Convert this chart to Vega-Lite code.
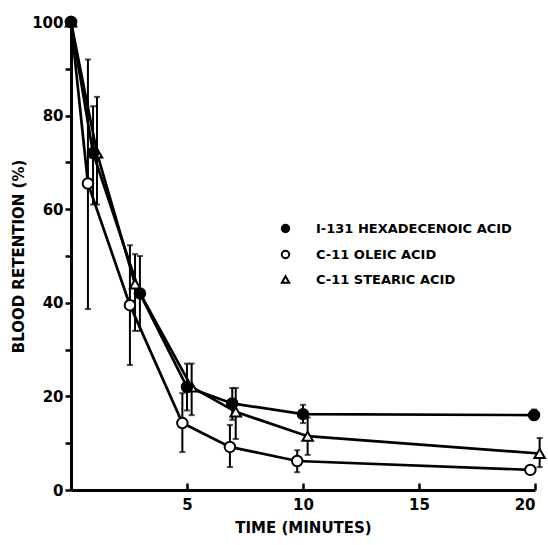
{
  "$schema": "https://vega.github.io/schema/vega-lite/v6.json",
  "width": 464,
  "height": 468,
  "autosize": "none",
  "padding": {"left": 71, "top": 22, "right": 13, "bottom": 55},
  "background": "white",
  "config": {
    "view": {"stroke": null},
    "font": "DejaVu Sans",
    "axis": {"domainColor": "black", "domainWidth": 3, "tickColor": "black", "tickWidth": 2.5, "labelColor": "black", "labelFont": "DejaVu Sans", "labelFontWeight": "bold", "labelFontSize": 15, "titleFont": "DejaVu Sans", "titleFontWeight": "bold", "titleFontSize": 15, "titleColor": "black", "grid": false},
    "legend": {"symbolStrokeColor": "black", "symbolStrokeWidth": 2, "labelLimit": 0}
  },
  "datasets": {
    "pts": [
      {"series": "C-11 OLEIC ACID", "t": 0, "r": 100, "lo": null, "hi": null},
      {"series": "C-11 OLEIC ACID", "t": 0.73, "r": 65.5, "lo": 38.7, "hi": 92},
      {"series": "C-11 OLEIC ACID", "t": 2.54, "r": 39.5, "lo": 26.7, "hi": 52.3},
      {"series": "C-11 OLEIC ACID", "t": 4.8, "r": 14.3, "lo": 8.1, "hi": 20.7},
      {"series": "C-11 OLEIC ACID", "t": 6.85, "r": 9.2, "lo": 4.9, "hi": 13.9},
      {"series": "C-11 OLEIC ACID", "t": 9.75, "r": 6.2, "lo": 3.8, "hi": 8.5},
      {"series": "C-11 OLEIC ACID", "t": 19.8, "r": 4.3, "lo": null, "hi": null},
      {"series": "C-11 STEARIC ACID", "t": 0, "r": 100, "lo": null, "hi": null},
      {"series": "C-11 STEARIC ACID", "t": 1.12, "r": 72, "lo": 61, "hi": 84},
      {"series": "C-11 STEARIC ACID", "t": 2.76, "r": 44, "lo": 34, "hi": 50.4},
      {"series": "C-11 STEARIC ACID", "t": 5.2, "r": 22, "lo": 16, "hi": 27},
      {"series": "C-11 STEARIC ACID", "t": 7.1, "r": 16.7, "lo": 10.9, "hi": 21.8},
      {"series": "C-11 STEARIC ACID", "t": 10.2, "r": 11.5, "lo": 7.5, "hi": 15.5},
      {"series": "C-11 STEARIC ACID", "t": 20.2, "r": 7.8, "lo": 4.9, "hi": 11.1},
      {"series": "I-131 HEXADECENOIC ACID", "t": 0, "r": 100, "lo": null, "hi": null},
      {"series": "I-131 HEXADECENOIC ACID", "t": 0.95, "r": 72, "lo": 61, "hi": 82},
      {"series": "I-131 HEXADECENOIC ACID", "t": 2.97, "r": 42, "lo": 34, "hi": 50},
      {"series": "I-131 HEXADECENOIC ACID", "t": 5.0, "r": 22, "lo": 17, "hi": 27},
      {"series": "I-131 HEXADECENOIC ACID", "t": 6.95, "r": 18.5, "lo": 15, "hi": 21.8},
      {"series": "I-131 HEXADECENOIC ACID", "t": 10.0, "r": 16.2, "lo": 14.3, "hi": 18.2},
      {"series": "I-131 HEXADECENOIC ACID", "t": 19.96, "r": 16, "lo": 15, "hi": 17.2}
    ]
  },
  "data": {"name": "pts"},
  "layer": [
    {
      "transform": [{"filter": "isValid(datum.lo)"}],
      "mark": {"type": "errorbar", "ticks": {"size": 6, "thickness": 2, "color": "black"}, "rule": {"strokeWidth": 2, "color": "black"}},
      "encoding": {
        "x": {"field": "t", "type": "quantitative", "title": "TIME (MINUTES)"},
        "y": {"field": "lo", "type": "quantitative", "title": "BLOOD RETENTION (%)"},
        "y2": {"field": "hi"}
      }
    },
    {
      "mark": {"type": "line", "color": "black", "strokeWidth": 2.7},
      "encoding": {
        "x": {"field": "t", "type": "quantitative", "title": "TIME (MINUTES)"},
        "y": {"field": "r", "type": "quantitative", "title": "BLOOD RETENTION (%)"},
        "detail": {"field": "series"}
      }
    },
    {
      "mark": {"type": "point", "filled": true, "strokeWidth": 2, "opacity": 1, "size": 110},
      "encoding": {
        "x": {
          "field": "t", "type": "quantitative",
          "scale": {"domain": [0, 20], "nice": false},
          "axis": {"values": [5, 10, 15, 20], "tickSize": -7, "labelPadding": 14, "titlePadding": 8},
          "title": "TIME (MINUTES)"
        },
        "y": {
          "field": "r", "type": "quantitative",
          "scale": {"domain": [0, 100], "nice": false},
          "axis": {"values": [0, 10, 20, 30, 40, 50, 60, 70, 80, 90, 100], "labelExpr": "datum.value % 20 == 0 ? datum.label : ''", "tickSize": 6, "labelPadding": 2, "titlePadding": 5},
          "title": "BLOOD RETENTION (%)"
        },
        "shape": {
          "field": "series", "type": "nominal",
          "scale": {"domain": ["I-131 HEXADECENOIC ACID", "C-11 OLEIC ACID", "C-11 STEARIC ACID"], "range": ["circle", "circle", "triangle-up"]},
          "legend": {"title": null, "orient": "none", "legendX": 208, "legendY": 200, "labelFontSize": 13, "labelFontWeight": "bold", "labelColor": "black", "labelFont": "DejaVu Sans", "symbolSize": 55, "rowPadding": 9, "labelOffset": 24, "labelLimit": 0}
        },
        "fill": {
          "field": "series", "type": "nominal",
          "scale": {"domain": ["I-131 HEXADECENOIC ACID", "C-11 OLEIC ACID", "C-11 STEARIC ACID"], "range": ["black", "white", "white"]},
          "legend": {"title": null, "orient": "none", "legendX": 208, "legendY": 200, "labelFontSize": 13, "labelFontWeight": "bold", "labelColor": "black", "labelFont": "DejaVu Sans", "symbolSize": 55, "rowPadding": 9, "labelOffset": 24, "labelLimit": 0}
        },
        "stroke": {
          "field": "series", "type": "nominal",
          "scale": {"domain": ["I-131 HEXADECENOIC ACID", "C-11 OLEIC ACID", "C-11 STEARIC ACID"], "range": ["black", "black", "black"]},
          "legend": {"title": null, "orient": "none", "legendX": 208, "legendY": 200, "labelFontSize": 13, "labelFontWeight": "bold", "labelColor": "black", "labelFont": "DejaVu Sans", "symbolSize": 55, "rowPadding": 9, "labelOffset": 24, "labelLimit": 0}
        }
      }
    }
  ]
}
